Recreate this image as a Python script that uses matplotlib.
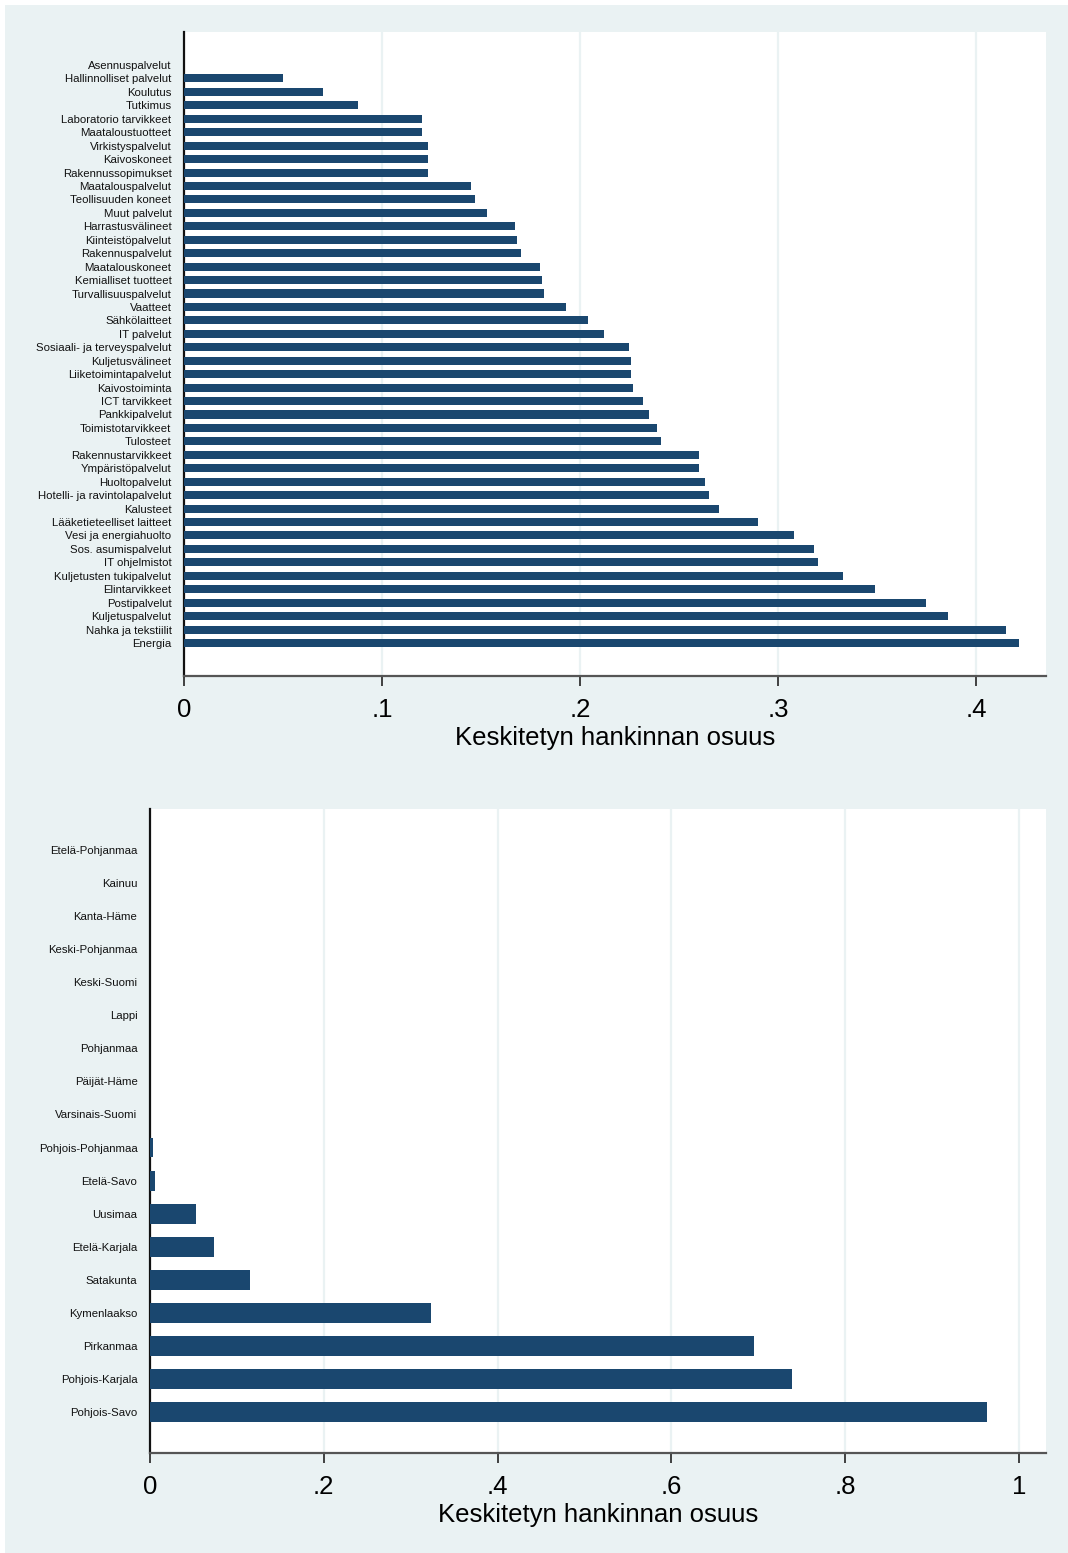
# %%
# libraries
import numpy as np
import matplotlib.pyplot as plt
from matplotlib.patches import Rectangle
from matplotlib.ticker import FuncFormatter

# %%
# data (top to bottom as in the figure)
tuoteryhmat = [
    "Asennuspalvelut", "Hallinnolliset palvelut", "Koulutus", "Tutkimus",
    "Laboratorio tarvikkeet", "Maataloustuotteet", "Virkistyspalvelut",
    "Kaivoskoneet", "Rakennussopimukset", "Maatalouspalvelut",
    "Teollisuuden koneet", "Muut palvelut", "Harrastusvälineet",
    "Kiinteistöpalvelut", "Rakennuspalvelut", "Maatalouskoneet",
    "Kemialliset tuotteet", "Turvallisuuspalvelut", "Vaatteet",
    "Sähkölaitteet", "IT palvelut", "Sosiaali- ja terveyspalvelut",
    "Kuljetusvälineet", "Liiketoimintapalvelut", "Kaivostoiminta",
    "ICT tarvikkeet", "Pankkipalvelut", "Toimistotarvikkeet", "Tulosteet",
    "Rakennustarvikkeet", "Ympäristöpalvelut", "Huoltopalvelut",
    "Hotelli- ja ravintolapalvelut", "Kalusteet", "Lääketieteelliset laitteet",
    "Vesi ja energiahuolto", "Sos. asumispalvelut", "IT ohjelmistot",
    "Kuljetusten tukipalvelut", "Elintarvikkeet", "Postipalvelut",
    "Kuljetuspalvelut", "Nahka ja tekstiilit", "Energia",
]
osuus_tuote = [
    0.0, 0.050, 0.070, 0.088, 0.120, 0.120, 0.123, 0.123, 0.123, 0.145,
    0.147, 0.153, 0.167, 0.168, 0.170, 0.180, 0.181, 0.182, 0.193, 0.204,
    0.212, 0.225, 0.226, 0.226, 0.227, 0.232, 0.235, 0.239, 0.241, 0.260,
    0.260, 0.263, 0.265, 0.270, 0.290, 0.308, 0.318, 0.320, 0.333, 0.349,
    0.375, 0.386, 0.415, 0.422,
]

maakunnat = [
    "Etelä-Pohjanmaa", "Kainuu", "Kanta-Häme", "Keski-Pohjanmaa",
    "Keski-Suomi", "Lappi", "Pohjanmaa", "Päijät-Häme", "Varsinais-Suomi",
    "Pohjois-Pohjanmaa", "Etelä-Savo", "Uusimaa", "Etelä-Karjala",
    "Satakunta", "Kymenlaakso", "Pirkanmaa", "Pohjois-Karjala", "Pohjois-Savo",
]
osuus_maakunta = [
    0.0, 0.0, 0.0, 0.0, 0.0, 0.0, 0.0, 0.0, 0.0,
    0.003, 0.006, 0.053, 0.074, 0.115, 0.323, 0.695, 0.739, 0.963,
]

xticks_top = [0, 0.1, 0.2, 0.3, 0.4]
xticks_bottom = [0, 0.2, 0.4, 0.6, 0.8, 1.0]

# %%
# style
plt.rcParams['font.family'] = ['Liberation Sans', 'DejaVu Sans']
BG = '#eaf2f3'
BAR = '#1a476f'
W, H = 1068, 1553


def stata_fmt(v, pos):
    if abs(v) < 1e-9:
        return '0'
    if abs(v - round(v)) < 1e-9:
        return str(int(round(v)))
    return ('%g' % v).lstrip('0')


def hbar(ax, labels, values, xticks, xmax, pad_rows):
    y = np.arange(len(labels))
    ax.barh(y, values, height=0.6, color=BAR, linewidth=0, zorder=3)
    ax.set_ylim(len(labels) - 1 + pad_rows, -pad_rows)
    ax.set_xlim(0, xmax)
    ax.set_yticks(y)
    ax.set_yticklabels(labels, fontsize=8.2, color='#111111')
    ax.tick_params(axis='y', length=0, pad=9)
    ax.set_xticks(xticks)
    ax.xaxis.set_major_formatter(FuncFormatter(stata_fmt))
    ax.tick_params(axis='x', length=7, width=1.3, color='#333333',
                   labelsize=18.5, pad=9)
    for t in xticks[1:]:
        ax.axvline(t, color=BG, lw=1.6, zorder=1)
    ax.spines['top'].set_visible(False)
    ax.spines['right'].set_visible(False)
    ax.spines['left'].set_color('#111111')
    ax.spines['left'].set_linewidth(1.6)
    ax.spines['bottom'].set_color('#555555')
    ax.spines['bottom'].set_linewidth(1.6)
    ax.set_xlabel('Keskitetyn hankinnan osuus', fontsize=18.5, labelpad=3)
    ax.set_facecolor('white')


# %%
# plot
fig = plt.figure(figsize=(W / 100, H / 100), dpi=100, facecolor='white')
fig.patches.append(Rectangle((5 / W, 0), 1, 1 - 5 / H, transform=fig.transFigure,
                             facecolor=BG, edgecolor='none', zorder=-10))

ax1 = fig.add_axes([184 / W, 1 - 676 / H, (1046 - 184) / W, (676 - 32) / H])
hbar(ax1, tuoteryhmat, osuus_tuote, xticks_top, 0.4354, 2.455)

ax2 = fig.add_axes([150 / W, 1 - 1453 / H, (1046 - 150) / W, (1453 - 809) / H])
hbar(ax2, maakunnat, osuus_maakunta, xticks_bottom, 1.031, 1.24)

fig.savefig('out.png', dpi=100, facecolor=fig.get_facecolor())
